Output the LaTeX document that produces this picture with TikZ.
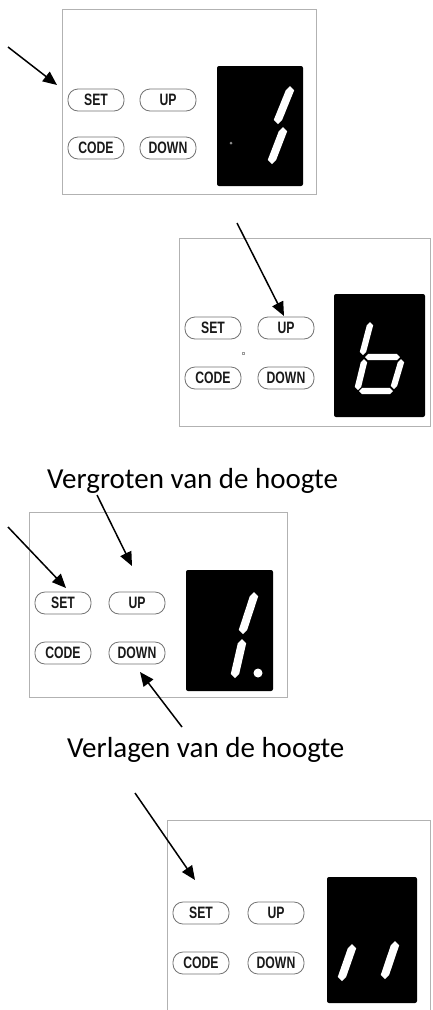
\documentclass[tikz,border=0pt]{standalone}
\usepackage{fontspec}
\setmainfont{Carlito}
\newfontfamily\btnfont[FakeStretch=0.74]{Liberation Sans}
\usetikzlibrary{arrows.meta}
\tikzset{
  panel/.style={draw=black!30, line width=1pt, fill=white},
  display/.style={fill=black, rounded corners=2pt},
  btn/.style={draw=black!55, line width=0.8pt, rounded corners=10pt, minimum width=56pt, minimum height=22pt, inner sep=0pt, font=\btnfont\bfseries\fontsize{16.5}{16.5}\selectfont, text=black!90},
  lbl/.style={font=\fontsize{29}{29}\selectfont, inner sep=0pt},
  pointer/.style={line width=1.5pt, -{Triangle[length=14pt,width=12pt]}},
  segfill/.style={fill=white},
}
\newcommand\segv[5]{\fill[segfill] (#1,#2) -- (#1+#5,#2+#5) -- (#3+#5,#4-#5) -- (#3,#4) -- (#3-#5,#4-#5) -- (#1-#5,#2+#5) -- cycle;}
\newcommand\segh[5]{\fill[segfill] (#1,#2) -- (#1+#5,#2-#5) -- (#3-#5,#4-#5) -- (#3,#4) -- (#3-#5,#4+#5) -- (#1+#5,#2+#5) -- cycle;}
\begin{document}
\begin{tikzpicture}[x=1pt,y=-1pt]
\useasboundingbox[fill=white] (0,0) rectangle (432,1010);

% ---------- panel 1 ----------
\draw[panel] (62,9) rectangle (316,194);
\fill[display] (217,66) rectangle (303,186);
\segv{290}{86}{278}{124}{4.2}
\segv{283}{127}{272}{164}{4.2}
\fill[black!45] (231,143) circle (1.5);
\node[btn] (set1) at (96,100) {SET};
\node[btn] (up1) at (168,100) {UP};
\node[btn] (code1) at (96,148) {CODE};
\node[btn] (down1) at (168,148) {DOWN};
\coordinate (a1s) at (8,47);
\coordinate (a1e) at (57,85);
\draw[pointer] (a1s) -- (a1e);

% ---------- panel 2 ----------
\draw[panel] (179,238) rectangle (430,426);
\fill[display] (334,294) rectangle (425,417);
\segv{370}{322}{363}{355}{3.2}
\segv{364}{359}{358}{390}{3.2}
\segh{365}{357}{400}{357}{3.2}
\segv{401}{359}{394}{389}{3.2}
\segh{359}{391}{393}{391}{3.2}
\draw[black!40, line width=0.5pt] (242,352) rectangle (244,354);
\node[btn] (set2) at (213,328) {SET};
\node[btn] (up2) at (286,328) {UP};
\node[btn] (code2) at (213,378) {CODE};
\node[btn] (down2) at (286,378) {DOWN};
\coordinate (a2s) at (237,223);
\coordinate (a2e) at (284,316);
\draw[pointer] (a2s) -- (a2e);

% ---------- panel 3 ----------
\node[lbl, anchor=base west] (lblup) at (47,488) {Vergroten van de hoogte};
\draw[panel] (29,512) rectangle (287,697);
\fill[display] (186,570) rectangle (273,691);
\segv{254}{592}{243}{634}{4.2}
\segv{242}{639}{235}{678}{4.2}
\fill[white] (258,673) circle (4.5);
\node[btn] (set3) at (63,603) {SET};
\node[btn] (up3) at (137,603) {UP};
\node[btn] (code3) at (63,653) {CODE};
\node[btn] (down3) at (137,653) {DOWN};
\coordinate (a3s) at (8,527);
\coordinate (a3e) at (66,588);
\draw[pointer] (a3s) -- (a3e);
\coordinate (a4s) at (97,495);
\coordinate (a4e) at (132,566);
\draw[pointer] (a4s) -- (a4e);
\node[lbl, anchor=base west] (lbldown) at (67,757) {Verlagen van de hoogte};
\coordinate (a5s) at (182,727);
\coordinate (a5e) at (140,672);
\draw[pointer] (a5s) -- (a5e);

% ---------- panel 4 ----------
\draw[panel] (167,820) rectangle (430,1012);
\fill[display] (327,877) rectangle (417,1003);
\segv{352}{944}{342}{981}{4.2}
\segv{395}{941}{385}{979}{4.2}
\node[btn] (set4) at (201,913) {SET};
\node[btn] (up4) at (276,913) {UP};
\node[btn] (code4) at (201,963) {CODE};
\node[btn] (down4) at (276,963) {DOWN};
\coordinate (a6s) at (135,793);
\coordinate (a6e) at (195,880);
\draw[pointer] (a6s) -- (a6e);
\end{tikzpicture}
\end{document}
